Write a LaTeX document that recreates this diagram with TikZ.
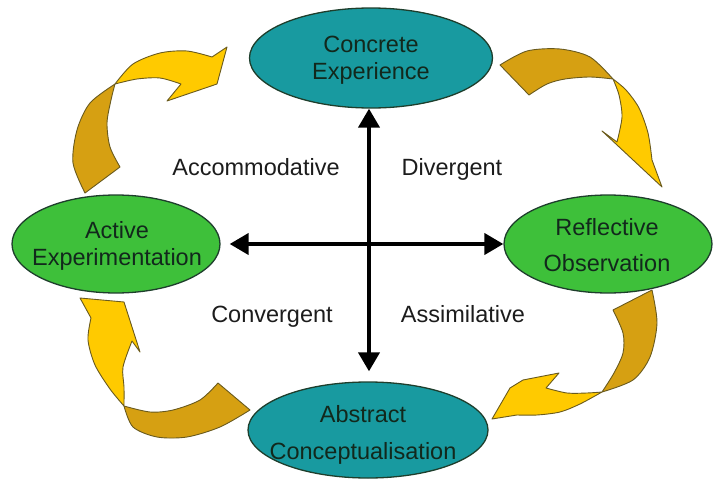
\documentclass[tikz,border=0pt]{standalone}
\usepackage{fontspec}
\setmainfont{Liberation Sans}
\usetikzlibrary{shapes.geometric,arrows.meta}

\definecolor{tealfill}{RGB}{24,154,160}
\definecolor{greenfill}{RGB}{62,192,58}
\definecolor{edgecol}{RGB}{30,62,44}
\definecolor{stagetext}{RGB}{18,40,28}
\definecolor{labeltext}{RGB}{28,28,28}
\definecolor{banddark}{RGB}{214,160,18}
\definecolor{bandlight}{RGB}{255,202,0}
\definecolor{bandedge}{RGB}{105,90,30}

\begin{document}
\begin{tikzpicture}[x=1pt,y=-1pt,
    stage/.style={ellipse,draw=edgecol,line width=1.3pt,inner sep=0pt},
    stagetxt/.style={align=center,text=stagetext,font=\fontsize{23.5}{27}\selectfont},
    quad/.style={anchor=base,text=labeltext,font=\fontsize{23.5}{27}\selectfont},
    axis/.style={line width=4pt,{Triangle[length=19pt,width=21pt]}-{Triangle[length=19pt,width=21pt]}},
    band/.style={draw=bandedge,line width=0.9pt,line join=round}]
    \useasboundingbox (0,0) rectangle (713,479);

    % curved arrows of the cycle
    \filldraw[band,fill=banddark] plot[smooth] coordinates {(85,193) (73,163) (77,130) (90,103) (115,84)}
        -- plot[smooth] coordinates {(115,84) (111,100) (107,123) (110,147) (120,167)} -- cycle;
    \filldraw[band,fill=bandlight] plot[smooth] coordinates {(115,84) (133,64) (160,53) (187,51) (212,57)}
        -- (227,47) -- (217,84) -- (167,101) -- (181,84)
        -- plot[smooth] coordinates {(181,84) (160,78) (137,79) (115,84)} -- cycle;

    \filldraw[band,fill=banddark] plot[smooth] coordinates {(500,65) (527,51) (560,49) (590,57) (613,79)}
        -- plot[smooth] coordinates {(613,79) (590,77) (565,79) (547,84) (529,95)} -- cycle;
    \filldraw[band,fill=bandlight] plot[smooth] coordinates {(613,79) (626,90) (639,108) (648,133) (652,160)}
        -- (662,187) -- (602,131) -- (617,142)
        -- plot[smooth] coordinates {(617,142) (622,117) (619,95) (613,79)} -- cycle;

    \filldraw[band,fill=banddark] plot[smooth] coordinates {(652,290) (657,323) (650,357) (633,380) (602,392)}
        -- plot[smooth] coordinates {(602,392) (614,373) (623,353) (623,333) (613,310)} -- cycle;
    \filldraw[band,fill=bandlight] plot[smooth] coordinates {(602,392) (580,404) (560,412) (537,415) (517,415)}
        -- (492,419) -- (510,388) -- (523,380) -- (559,373) -- (546,388)
        -- plot[smooth] coordinates {(546,388) (567,393) (587,393) (602,392)} -- cycle;

    \filldraw[band,fill=banddark] plot[smooth] coordinates {(250,410) (220,427) (187,437) (157,437) (133,427) (124,406)}
        -- plot[smooth] coordinates {(124,406) (150,412) (173,410) (200,400) (218,383)} -- cycle;
    \filldraw[band,fill=bandlight] plot[smooth] coordinates {(124,406) (110,389) (95,365) (88,340) (91,318)}
        -- (80,298) -- (124,302) -- (140,352) -- (132,341)
        -- plot[smooth] coordinates {(132,341) (123,367) (124,387) (124,406)} -- cycle;

    % the four stages
    \node[stage,fill=tealfill,minimum width=243pt,minimum height=100pt] (conc) at (371,58) {};
    \node[stage,fill=greenfill,minimum width=208pt,minimum height=98pt] (refl) at (608,244) {};
    \node[stage,fill=tealfill,minimum width=240pt,minimum height=96pt] (abs) at (368,430) {};
    \node[stage,fill=greenfill,minimum width=208pt,minimum height=98pt] (act) at (116,244) {};

    \node[stagetxt] (concT) at (371,60) {Concrete\\Experience};
    \node[stagetxt] (reflT) at (607,245) {Reflective\\[9pt]Observation};
    \node[stagetxt] (absT) at (363,435) {Abstract\\[10pt]Conceptualisation};
    \node[stagetxt] (actT) at (117,246) {Active\\Experimentation};

    % axes
    \coordinate (mid) at (369,244);
    \draw[axis,shorten >=10pt] (mid |- conc.south) -- (mid |- abs.north);
    \draw[axis,shorten <=9pt] (act.east) -- (refl.west);

    \node[quad] (accom) at (256,175) {Accommodative};
    \node[quad] (diver) at (452,175) {Divergent};
    \node[quad] (conve) at (272,322) {Convergent};
    \node[quad] (assim) at (463,322) {Assimilative};
\end{tikzpicture}
\end{document}
